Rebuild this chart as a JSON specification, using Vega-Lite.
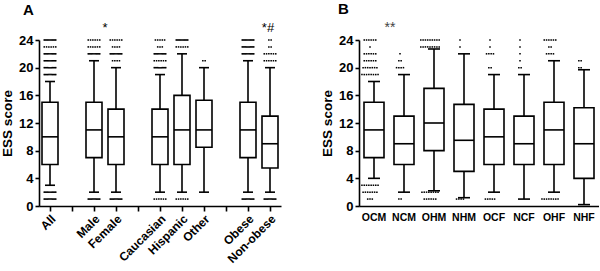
{
"$schema": "https://vega.github.io/schema/vega-lite/v6.json",
"background": "white",
"padding": {"left": 0, "top": 2, "right": 0, "bottom": 0},
"spacing": 39,
"config": {
 "view": {"stroke": null},
 "font": "Liberation Sans",
 "axis": {"domainColor": "black", "domainWidth": 1.6, "tickColor": "black", "tickWidth": 1.6, "labelColor": "black", "labelFont": "Liberation Sans", "labelFontWeight": "bold", "titleFont": "Liberation Sans", "titleFontWeight": "bold", "titleColor": "black", "grid": false, "labelOverlap": false},
 "axisY": {"values": [0,4,8,12,16,20,24], "labelOverlap": false, "tickSize": 4, "labelFontSize": 13, "labelPadding": 2, "titleFontSize": 13.5, "titlePadding": 4},
 "title": {"font": "Liberation Sans", "fontWeight": "bold", "fontSize": 15, "color": "black", "anchor": "start", "frame": "group", "offset": 0}
},
"datasets": {
 "boxA": [
  {"g":"All","lo":3,"q1":6,"med":10,"q3":15,"hi":18},
  {"g":"Male","lo":2,"q1":7,"med":11,"q3":15,"hi":21},
  {"g":"Female","lo":2,"q1":6,"med":10,"q3":14,"hi":20},
  {"g":"Caucasian","lo":2,"q1":6,"med":10,"q3":14,"hi":19},
  {"g":"Hispanic","lo":2,"q1":6,"med":11,"q3":16,"hi":22},
  {"g":"Other","lo":2,"q1":8.5,"med":11,"q3":15.3,"hi":20},
  {"g":"Obese","lo":2,"q1":7,"med":11,"q3":15,"hi":21},
  {"g":"Non-obese","lo":2,"q1":5.5,"med":9,"q3":13,"hi":20}
 ],
 "boxB": [
  {"g":"OCM","lo":4,"q1":7,"med":11,"q3":15,"hi":18},
  {"g":"NCM","lo":2,"q1":6,"med":9,"q3":13,"hi":19},
  {"g":"OHM","lo":2.2,"q1":8,"med":12,"q3":17,"hi":22.7},
  {"g":"NHM","lo":1.2,"q1":5,"med":9.5,"q3":14.7,"hi":22},
  {"g":"OCF","lo":2,"q1":6,"med":10,"q3":14,"hi":19},
  {"g":"NCF","lo":1,"q1":6,"med":9,"q3":13,"hi":19},
  {"g":"OHF","lo":2,"q1":6,"med":11,"q3":15,"hi":21},
  {"g":"NHF","lo":0.2,"q1":4,"med":9,"q3":14.2,"hi":19.7}
 ],
 "dotA": [
  {"g":"All","v":24,"k":-2.5},{"g":"All","v":24,"k":-2},{"g":"All","v":24,"k":-1.5},{"g":"All","v":24,"k":-1},{"g":"All","v":24,"k":-0.5},{"g":"All","v":24,"k":0},{"g":"All","v":24,"k":0.5},{"g":"All","v":24,"k":1},{"g":"All","v":24,"k":1.5},{"g":"All","v":24,"k":2},{"g":"All","v":24,"k":2.5},
  {"g":"All","v":23,"k":-2.5},{"g":"All","v":23,"k":-1.5},{"g":"All","v":23,"k":-0.5},{"g":"All","v":23,"k":0.5},{"g":"All","v":23,"k":1.5},{"g":"All","v":23,"k":2.5},
  {"g":"All","v":22,"k":-2.5},{"g":"All","v":22,"k":-2},{"g":"All","v":22,"k":-1.5},{"g":"All","v":22,"k":-1},{"g":"All","v":22,"k":-0.5},{"g":"All","v":22,"k":0},{"g":"All","v":22,"k":0.5},{"g":"All","v":22,"k":1},{"g":"All","v":22,"k":1.5},{"g":"All","v":22,"k":2},{"g":"All","v":22,"k":2.5},
  {"g":"All","v":21,"k":-2.5},{"g":"All","v":21,"k":-2},{"g":"All","v":21,"k":-1.5},{"g":"All","v":21,"k":-1},{"g":"All","v":21,"k":-0.5},{"g":"All","v":21,"k":0},{"g":"All","v":21,"k":0.5},{"g":"All","v":21,"k":1},{"g":"All","v":21,"k":1.5},{"g":"All","v":21,"k":2},{"g":"All","v":21,"k":2.5},
  {"g":"All","v":20,"k":-2.5},{"g":"All","v":20,"k":-2},{"g":"All","v":20,"k":-1.5},{"g":"All","v":20,"k":-1},{"g":"All","v":20,"k":-0.5},{"g":"All","v":20,"k":0},{"g":"All","v":20,"k":0.5},{"g":"All","v":20,"k":1},{"g":"All","v":20,"k":1.5},{"g":"All","v":20,"k":2},{"g":"All","v":20,"k":2.5},
  {"g":"All","v":19,"k":-2.5},{"g":"All","v":19,"k":-2},{"g":"All","v":19,"k":-1.5},{"g":"All","v":19,"k":-1},{"g":"All","v":19,"k":-0.5},{"g":"All","v":19,"k":0},{"g":"All","v":19,"k":0.5},{"g":"All","v":19,"k":1},{"g":"All","v":19,"k":1.5},{"g":"All","v":19,"k":2},{"g":"All","v":19,"k":2.5},
  {"g":"All","v":2,"k":-2.5},{"g":"All","v":2,"k":-2},{"g":"All","v":2,"k":-1.5},{"g":"All","v":2,"k":-1},{"g":"All","v":2,"k":-0.5},{"g":"All","v":2,"k":0},{"g":"All","v":2,"k":0.5},{"g":"All","v":2,"k":1},{"g":"All","v":2,"k":1.5},{"g":"All","v":2,"k":2},{"g":"All","v":2,"k":2.5},
  {"g":"All","v":1,"k":-2.5},{"g":"All","v":1,"k":-2},{"g":"All","v":1,"k":-1.5},{"g":"All","v":1,"k":-1},{"g":"All","v":1,"k":-0.5},{"g":"All","v":1,"k":0},{"g":"All","v":1,"k":0.5},{"g":"All","v":1,"k":1},{"g":"All","v":1,"k":1.5},{"g":"All","v":1,"k":2},{"g":"All","v":1,"k":2.5},
  {"g":"Male","v":24,"k":-2.5},{"g":"Male","v":24,"k":-1.5},{"g":"Male","v":24,"k":-0.5},{"g":"Male","v":24,"k":0.5},{"g":"Male","v":24,"k":1.5},{"g":"Male","v":24,"k":2.5},
  {"g":"Male","v":23,"k":-2.5},{"g":"Male","v":23,"k":-1.5},{"g":"Male","v":23,"k":-0.5},{"g":"Male","v":23,"k":0.5},{"g":"Male","v":23,"k":1.5},{"g":"Male","v":23,"k":2.5},
  {"g":"Male","v":22,"k":-2.5},{"g":"Male","v":22,"k":-2},{"g":"Male","v":22,"k":-1.5},{"g":"Male","v":22,"k":-1},{"g":"Male","v":22,"k":-0.5},{"g":"Male","v":22,"k":0},{"g":"Male","v":22,"k":0.5},{"g":"Male","v":22,"k":1},{"g":"Male","v":22,"k":1.5},{"g":"Male","v":22,"k":2},{"g":"Male","v":22,"k":2.5},
  {"g":"Male","v":1,"k":-2.5},{"g":"Male","v":1,"k":-2},{"g":"Male","v":1,"k":-1.5},{"g":"Male","v":1,"k":-1},{"g":"Male","v":1,"k":-0.5},{"g":"Male","v":1,"k":0},{"g":"Male","v":1,"k":0.5},{"g":"Male","v":1,"k":1},{"g":"Male","v":1,"k":1.5},{"g":"Male","v":1,"k":2},{"g":"Male","v":1,"k":2.5},
  {"g":"Female","v":24,"k":-2.5},{"g":"Female","v":24,"k":-1.5},{"g":"Female","v":24,"k":-0.5},{"g":"Female","v":24,"k":0.5},{"g":"Female","v":24,"k":1.5},{"g":"Female","v":24,"k":2.5},
  {"g":"Female","v":23,"k":-1.5},{"g":"Female","v":23,"k":-0.5},{"g":"Female","v":23,"k":0.5},{"g":"Female","v":23,"k":1.5},
  {"g":"Female","v":22,"k":-2.5},{"g":"Female","v":22,"k":-2},{"g":"Female","v":22,"k":-1.5},{"g":"Female","v":22,"k":-1},{"g":"Female","v":22,"k":-0.5},{"g":"Female","v":22,"k":0},{"g":"Female","v":22,"k":0.5},{"g":"Female","v":22,"k":1},{"g":"Female","v":22,"k":1.5},{"g":"Female","v":22,"k":2},{"g":"Female","v":22,"k":2.5},
  {"g":"Female","v":21,"k":-1.5},{"g":"Female","v":21,"k":-0.5},{"g":"Female","v":21,"k":0.5},{"g":"Female","v":21,"k":1.5},
  {"g":"Female","v":1,"k":-2.5},{"g":"Female","v":1,"k":-2},{"g":"Female","v":1,"k":-1.5},{"g":"Female","v":1,"k":-1},{"g":"Female","v":1,"k":-0.5},{"g":"Female","v":1,"k":0},{"g":"Female","v":1,"k":0.5},{"g":"Female","v":1,"k":1},{"g":"Female","v":1,"k":1.5},{"g":"Female","v":1,"k":2},{"g":"Female","v":1,"k":2.5},
  {"g":"Caucasian","v":24,"k":-2},{"g":"Caucasian","v":24,"k":-1},{"g":"Caucasian","v":24,"k":0},{"g":"Caucasian","v":24,"k":1},{"g":"Caucasian","v":24,"k":2},
  {"g":"Caucasian","v":23,"k":-1},{"g":"Caucasian","v":23,"k":0},{"g":"Caucasian","v":23,"k":1},
  {"g":"Caucasian","v":22,"k":-2.5},{"g":"Caucasian","v":22,"k":-2},{"g":"Caucasian","v":22,"k":-1.5},{"g":"Caucasian","v":22,"k":-1},{"g":"Caucasian","v":22,"k":-0.5},{"g":"Caucasian","v":22,"k":0},{"g":"Caucasian","v":22,"k":0.5},{"g":"Caucasian","v":22,"k":1},{"g":"Caucasian","v":22,"k":1.5},{"g":"Caucasian","v":22,"k":2},{"g":"Caucasian","v":22,"k":2.5},
  {"g":"Caucasian","v":21,"k":-2.5},{"g":"Caucasian","v":21,"k":-1.5},{"g":"Caucasian","v":21,"k":-0.5},{"g":"Caucasian","v":21,"k":0.5},{"g":"Caucasian","v":21,"k":1.5},{"g":"Caucasian","v":21,"k":2.5},
  {"g":"Caucasian","v":20,"k":-2.5},{"g":"Caucasian","v":20,"k":-2},{"g":"Caucasian","v":20,"k":-1.5},{"g":"Caucasian","v":20,"k":-1},{"g":"Caucasian","v":20,"k":-0.5},{"g":"Caucasian","v":20,"k":0},{"g":"Caucasian","v":20,"k":0.5},{"g":"Caucasian","v":20,"k":1},{"g":"Caucasian","v":20,"k":1.5},{"g":"Caucasian","v":20,"k":2},{"g":"Caucasian","v":20,"k":2.5},
  {"g":"Caucasian","v":1,"k":-2.5},{"g":"Caucasian","v":1,"k":-1.5},{"g":"Caucasian","v":1,"k":-0.5},{"g":"Caucasian","v":1,"k":0.5},{"g":"Caucasian","v":1,"k":1.5},{"g":"Caucasian","v":1,"k":2.5},
  {"g":"Hispanic","v":24,"k":-2.5},{"g":"Hispanic","v":24,"k":-2},{"g":"Hispanic","v":24,"k":-1.5},{"g":"Hispanic","v":24,"k":-1},{"g":"Hispanic","v":24,"k":-0.5},{"g":"Hispanic","v":24,"k":0},{"g":"Hispanic","v":24,"k":0.5},{"g":"Hispanic","v":24,"k":1},{"g":"Hispanic","v":24,"k":1.5},{"g":"Hispanic","v":24,"k":2},{"g":"Hispanic","v":24,"k":2.5},
  {"g":"Hispanic","v":23,"k":-2.5},{"g":"Hispanic","v":23,"k":-1.5},{"g":"Hispanic","v":23,"k":-0.5},{"g":"Hispanic","v":23,"k":0.5},{"g":"Hispanic","v":23,"k":1.5},{"g":"Hispanic","v":23,"k":2.5},
  {"g":"Hispanic","v":1,"k":-2.5},{"g":"Hispanic","v":1,"k":-1.5},{"g":"Hispanic","v":1,"k":-0.5},{"g":"Hispanic","v":1,"k":0.5},{"g":"Hispanic","v":1,"k":1.5},{"g":"Hispanic","v":1,"k":2.5},
  {"g":"Other","v":21,"k":-0.5},{"g":"Other","v":21,"k":0.5},
  {"g":"Obese","v":24,"k":-2.5},{"g":"Obese","v":24,"k":-2},{"g":"Obese","v":24,"k":-1.5},{"g":"Obese","v":24,"k":-1},{"g":"Obese","v":24,"k":-0.5},{"g":"Obese","v":24,"k":0},{"g":"Obese","v":24,"k":0.5},{"g":"Obese","v":24,"k":1},{"g":"Obese","v":24,"k":1.5},{"g":"Obese","v":24,"k":2},{"g":"Obese","v":24,"k":2.5},
  {"g":"Obese","v":23,"k":-2.5},{"g":"Obese","v":23,"k":-2},{"g":"Obese","v":23,"k":-1.5},{"g":"Obese","v":23,"k":-1},{"g":"Obese","v":23,"k":-0.5},{"g":"Obese","v":23,"k":0},{"g":"Obese","v":23,"k":0.5},{"g":"Obese","v":23,"k":1},{"g":"Obese","v":23,"k":1.5},{"g":"Obese","v":23,"k":2},{"g":"Obese","v":23,"k":2.5},
  {"g":"Obese","v":22,"k":-2.5},{"g":"Obese","v":22,"k":-2},{"g":"Obese","v":22,"k":-1.5},{"g":"Obese","v":22,"k":-1},{"g":"Obese","v":22,"k":-0.5},{"g":"Obese","v":22,"k":0},{"g":"Obese","v":22,"k":0.5},{"g":"Obese","v":22,"k":1},{"g":"Obese","v":22,"k":1.5},{"g":"Obese","v":22,"k":2},{"g":"Obese","v":22,"k":2.5},
  {"g":"Obese","v":1,"k":-2.5},{"g":"Obese","v":1,"k":-2},{"g":"Obese","v":1,"k":-1.5},{"g":"Obese","v":1,"k":-1},{"g":"Obese","v":1,"k":-0.5},{"g":"Obese","v":1,"k":0},{"g":"Obese","v":1,"k":0.5},{"g":"Obese","v":1,"k":1},{"g":"Obese","v":1,"k":1.5},{"g":"Obese","v":1,"k":2},{"g":"Obese","v":1,"k":2.5},
  {"g":"Non-obese","v":24,"k":-0.5},{"g":"Non-obese","v":24,"k":0.5},
  {"g":"Non-obese","v":23,"k":-0.5},{"g":"Non-obese","v":23,"k":0.5},
  {"g":"Non-obese","v":22,"k":-2.5},{"g":"Non-obese","v":22,"k":-1.5},{"g":"Non-obese","v":22,"k":-0.5},{"g":"Non-obese","v":22,"k":0.5},{"g":"Non-obese","v":22,"k":1.5},{"g":"Non-obese","v":22,"k":2.5},
  {"g":"Non-obese","v":21,"k":-2.5},{"g":"Non-obese","v":21,"k":-1.5},{"g":"Non-obese","v":21,"k":-0.5},{"g":"Non-obese","v":21,"k":0.5},{"g":"Non-obese","v":21,"k":1.5},{"g":"Non-obese","v":21,"k":2.5},
  {"g":"Non-obese","v":1,"k":-2.5},{"g":"Non-obese","v":1,"k":-2},{"g":"Non-obese","v":1,"k":-1.5},{"g":"Non-obese","v":1,"k":-1},{"g":"Non-obese","v":1,"k":-0.5},{"g":"Non-obese","v":1,"k":0},{"g":"Non-obese","v":1,"k":0.5},{"g":"Non-obese","v":1,"k":1},{"g":"Non-obese","v":1,"k":1.5},{"g":"Non-obese","v":1,"k":2},{"g":"Non-obese","v":1,"k":2.5}
 ],
 "dotB": [
  {"g":"OCM","v":24,"k":-2.5},{"g":"OCM","v":24,"k":-1.5},{"g":"OCM","v":24,"k":-0.5},{"g":"OCM","v":24,"k":0.5},{"g":"OCM","v":24,"k":1.5},{"g":"OCM","v":24,"k":2.5},
  {"g":"OCM","v":23,"k":0},
  {"g":"OCM","v":22,"k":-2.5},{"g":"OCM","v":22,"k":-1.5},{"g":"OCM","v":22,"k":-0.5},{"g":"OCM","v":22,"k":0.5},{"g":"OCM","v":22,"k":1.5},{"g":"OCM","v":22,"k":2.5},
  {"g":"OCM","v":21,"k":-2.5},{"g":"OCM","v":21,"k":-1.5},{"g":"OCM","v":21,"k":-0.5},{"g":"OCM","v":21,"k":0.5},{"g":"OCM","v":21,"k":1.5},{"g":"OCM","v":21,"k":2.5},
  {"g":"OCM","v":20,"k":-3},{"g":"OCM","v":20,"k":-2},{"g":"OCM","v":20,"k":-1},{"g":"OCM","v":20,"k":0},{"g":"OCM","v":20,"k":1},{"g":"OCM","v":20,"k":2},{"g":"OCM","v":20,"k":3},
  {"g":"OCM","v":19,"k":-3.5},{"g":"OCM","v":19,"k":-2.5},{"g":"OCM","v":19,"k":-1.5},{"g":"OCM","v":19,"k":-0.5},{"g":"OCM","v":19,"k":0.5},{"g":"OCM","v":19,"k":1.5},{"g":"OCM","v":19,"k":2.5},{"g":"OCM","v":19,"k":3.5},
  {"g":"OCM","v":3,"k":-3.5},{"g":"OCM","v":3,"k":-2.5},{"g":"OCM","v":3,"k":-1.5},{"g":"OCM","v":3,"k":-0.5},{"g":"OCM","v":3,"k":0.5},{"g":"OCM","v":3,"k":1.5},{"g":"OCM","v":3,"k":2.5},{"g":"OCM","v":3,"k":3.5},
  {"g":"OCM","v":2,"k":-3},{"g":"OCM","v":2,"k":-2},{"g":"OCM","v":2,"k":-1},{"g":"OCM","v":2,"k":0},{"g":"OCM","v":2,"k":1},{"g":"OCM","v":2,"k":2},{"g":"OCM","v":2,"k":3},
  {"g":"OCM","v":1,"k":-1},{"g":"OCM","v":1,"k":0},{"g":"OCM","v":1,"k":1},
  {"g":"NCM","v":22,"k":0},
  {"g":"NCM","v":21,"k":-0.5},{"g":"NCM","v":21,"k":0.5},
  {"g":"NCM","v":20,"k":-1.5},{"g":"NCM","v":20,"k":-0.5},{"g":"NCM","v":20,"k":0.5},{"g":"NCM","v":20,"k":1.5},
  {"g":"NCM","v":1,"k":-0.5},{"g":"NCM","v":1,"k":0.5},
  {"g":"OHM","v":24,"k":-4},{"g":"OHM","v":24,"k":-3},{"g":"OHM","v":24,"k":-2},{"g":"OHM","v":24,"k":-1},{"g":"OHM","v":24,"k":0},{"g":"OHM","v":24,"k":1},{"g":"OHM","v":24,"k":2},{"g":"OHM","v":24,"k":3},{"g":"OHM","v":24,"k":4},
  {"g":"OHM","v":23,"k":-4},{"g":"OHM","v":23,"k":-3},{"g":"OHM","v":23,"k":-2},{"g":"OHM","v":23,"k":-1},{"g":"OHM","v":23,"k":0},{"g":"OHM","v":23,"k":1},{"g":"OHM","v":23,"k":2},{"g":"OHM","v":23,"k":3},{"g":"OHM","v":23,"k":4},
  {"g":"OHM","v":2,"k":-3.5},{"g":"OHM","v":2,"k":-2.5},{"g":"OHM","v":2,"k":-1.5},{"g":"OHM","v":2,"k":-0.5},{"g":"OHM","v":2,"k":0.5},{"g":"OHM","v":2,"k":1.5},{"g":"OHM","v":2,"k":2.5},{"g":"OHM","v":2,"k":3.5},
  {"g":"OHM","v":1,"k":-2.5},{"g":"OHM","v":1,"k":-1.5},{"g":"OHM","v":1,"k":-0.5},{"g":"OHM","v":1,"k":0.5},{"g":"OHM","v":1,"k":1.5},{"g":"OHM","v":1,"k":2.5},
  {"g":"NHM","v":24,"k":0},
  {"g":"NHM","v":23,"k":0},
  {"g":"NHM","v":1,"k":-1.5},{"g":"NHM","v":1,"k":-0.5},{"g":"NHM","v":1,"k":0.5},{"g":"NHM","v":1,"k":1.5},
  {"g":"OCF","v":24,"k":0},
  {"g":"OCF","v":23,"k":0},
  {"g":"OCF","v":22,"k":-1.5},{"g":"OCF","v":22,"k":-0.5},{"g":"OCF","v":22,"k":0.5},{"g":"OCF","v":22,"k":1.5},
  {"g":"OCF","v":20,"k":-0.5},{"g":"OCF","v":20,"k":0.5},
  {"g":"OCF","v":1,"k":-2},{"g":"OCF","v":1,"k":-1},{"g":"OCF","v":1,"k":0},{"g":"OCF","v":1,"k":1},{"g":"OCF","v":1,"k":2},
  {"g":"NCF","v":24,"k":0},
  {"g":"NCF","v":23,"k":0},
  {"g":"NCF","v":22,"k":0},
  {"g":"NCF","v":21,"k":0},
  {"g":"NCF","v":20,"k":-0.5},{"g":"NCF","v":20,"k":0.5},
  {"g":"OHF","v":24,"k":-2.5},{"g":"OHF","v":24,"k":-1.5},{"g":"OHF","v":24,"k":-0.5},{"g":"OHF","v":24,"k":0.5},{"g":"OHF","v":24,"k":1.5},{"g":"OHF","v":24,"k":2.5},
  {"g":"OHF","v":23,"k":-0.5},{"g":"OHF","v":23,"k":0.5},
  {"g":"OHF","v":22,"k":-1.5},{"g":"OHF","v":22,"k":-0.5},{"g":"OHF","v":22,"k":0.5},{"g":"OHF","v":22,"k":1.5},
  {"g":"OHF","v":1,"k":-3.5},{"g":"OHF","v":1,"k":-2.5},{"g":"OHF","v":1,"k":-1.5},{"g":"OHF","v":1,"k":-0.5},{"g":"OHF","v":1,"k":0.5},{"g":"OHF","v":1,"k":1.5},{"g":"OHF","v":1,"k":2.5},{"g":"OHF","v":1,"k":3.5},
  {"g":"NHF","v":21,"k":-0.5},{"g":"NHF","v":21,"k":0.5},
  {"g":"NHF","v":20,"k":-0.5},{"g":"NHF","v":20,"k":0.5}
 ]
},
"hconcat": [
 {
  "width": 242, "height": 166,
  "title": {"text": "A", "dx": -16},
  "encoding": {
   "x": {"field": "g", "type": "nominal",
    "scale": {"type": "band", "domain": ["All","gap1","Male","Female","gap2","Caucasian","Hispanic","Other","gap3","Obese","Non-obese"], "paddingInner": 0, "paddingOuter": 0},
    "axis": {"title": null, "labelAngle": -45, "labelExpr": "indexof(datum.value, 'gap') == 0 ? '' : datum.value", "tickSize": 5, "labelFontSize": 12, "labelPadding": 2}}
  },
  "layer": [
   {"data": {"name": "boxA"}, "mark": {"type": "rule", "color": "black", "strokeWidth": 1.6},
    "encoding": {"y": {"field": "lo", "type": "quantitative", "scale": {"domain": [0, 24], "nice": false}, "axis": {"title": "ESS score", "values": [0,4,8,12,16,20,24]}}, "y2": {"field": "q1"}}},
   {"data": {"name": "boxA"}, "mark": {"type": "rule", "color": "black", "strokeWidth": 1.6},
    "encoding": {"y": {"field": "q3", "type": "quantitative", "axis": {"title": "ESS score", "values": [0,4,8,12,16,20,24]}}, "y2": {"field": "hi"}}},
   {"data": {"name": "boxA"}, "mark": {"type": "bar", "size": 16, "fill": "white", "stroke": "black", "strokeWidth": 1.6},
    "encoding": {"y": {"field": "q1", "type": "quantitative", "axis": {"title": "ESS score", "values": [0,4,8,12,16,20,24]}}, "y2": {"field": "q3"}}},
   {"data": {"name": "boxA"}, "mark": {"type": "tick", "size": 16, "thickness": 1.6, "color": "black", "opacity": 1},
    "encoding": {"y": {"field": "med", "type": "quantitative", "axis": {"title": "ESS score", "values": [0,4,8,12,16,20,24]}}}},
   {"data": {"name": "boxA"}, "mark": {"type": "tick", "size": 10, "thickness": 1.6, "color": "black", "opacity": 1},
    "encoding": {"y": {"field": "lo", "type": "quantitative", "axis": {"title": "ESS score", "values": [0,4,8,12,16,20,24]}}}},
   {"data": {"name": "boxA"}, "mark": {"type": "tick", "size": 10, "thickness": 1.6, "color": "black", "opacity": 1},
    "encoding": {"y": {"field": "hi", "type": "quantitative", "axis": {"title": "ESS score", "values": [0,4,8,12,16,20,24]}}}},
   {"data": {"name": "dotA"}, "mark": {"type": "point", "shape": "square", "size": 2.4, "filled": true, "color": "black", "opacity": 1, "strokeWidth": 0},
    "encoding": {"y": {"field": "v", "type": "quantitative", "axis": {"title": "ESS score", "values": [0,4,8,12,16,20,24]}}, "xOffset": {"field": "k", "type": "quantitative", "scale": {"domain": [-5, 5], "range": [-0.5, 22.5], "nice": false, "zero": false}}}},
   {"data": {"values": [{"g": "Male", "v": 25.1, "t": "*"}]}, "mark": {"type": "text", "fontSize": 13, "color": "black", "dx": 11, "baseline": "alphabetic"},
    "encoding": {"y": {"field": "v", "type": "quantitative", "axis": {"title": "ESS score", "values": [0,4,8,12,16,20,24]}}, "text": {"field": "t"}}},
   {"data": {"values": [{"g": "Non-obese", "v": 25.2, "t": "*#"}]}, "mark": {"type": "text", "fontSize": 13, "color": "black", "dx": -2, "baseline": "alphabetic"},
    "encoding": {"y": {"field": "v", "type": "quantitative", "axis": {"title": "ESS score", "values": [0,4,8,12,16,20,24]}}, "text": {"field": "t"}}}
  ]
 },
 {
  "width": 240, "height": 166,
  "title": {"text": "B", "dx": -21},
  "encoding": {
   "x": {"field": "g", "type": "nominal",
    "scale": {"type": "band", "domain": ["OCM","NCM","OHM","NHM","OCF","NCF","OHF","NHF"], "paddingInner": 0, "paddingOuter": 0},
    "axis": {"title": null, "labelAngle": 0, "ticks": false, "labelFontSize": 10.5, "labelPadding": 6}}
  },
  "layer": [
   {"data": {"name": "boxB"}, "mark": {"type": "rule", "color": "black", "strokeWidth": 1.6},
    "encoding": {"y": {"field": "lo", "type": "quantitative", "scale": {"domain": [0, 24], "nice": false}, "axis": {"title": "ESS score", "values": [0,4,8,12,16,20,24]}}, "y2": {"field": "q1"}}},
   {"data": {"name": "boxB"}, "mark": {"type": "rule", "color": "black", "strokeWidth": 1.6},
    "encoding": {"y": {"field": "q3", "type": "quantitative", "axis": {"title": "ESS score", "values": [0,4,8,12,16,20,24]}}, "y2": {"field": "hi"}}},
   {"data": {"name": "boxB"}, "mark": {"type": "bar", "size": 20, "fill": "white", "stroke": "black", "strokeWidth": 1.6},
    "encoding": {"y": {"field": "q1", "type": "quantitative", "axis": {"title": "ESS score", "values": [0,4,8,12,16,20,24]}}, "y2": {"field": "q3"}}},
   {"data": {"name": "boxB"}, "mark": {"type": "tick", "size": 20, "thickness": 1.6, "color": "black", "opacity": 1},
    "encoding": {"y": {"field": "med", "type": "quantitative", "axis": {"title": "ESS score", "values": [0,4,8,12,16,20,24]}}}},
   {"data": {"name": "boxB"}, "mark": {"type": "tick", "size": 12, "thickness": 1.6, "color": "black", "opacity": 1},
    "encoding": {"y": {"field": "lo", "type": "quantitative", "axis": {"title": "ESS score", "values": [0,4,8,12,16,20,24]}}}},
   {"data": {"name": "boxB"}, "mark": {"type": "tick", "size": 12, "thickness": 1.6, "color": "black", "opacity": 1},
    "encoding": {"y": {"field": "hi", "type": "quantitative", "axis": {"title": "ESS score", "values": [0,4,8,12,16,20,24]}}}},
   {"data": {"name": "dotB"}, "mark": {"type": "point", "shape": "square", "size": 2.4, "filled": true, "color": "black", "opacity": 1, "strokeWidth": 0},
    "encoding": {"y": {"field": "v", "type": "quantitative", "axis": {"title": "ESS score", "values": [0,4,8,12,16,20,24]}}, "xOffset": {"field": "k", "type": "quantitative", "scale": {"domain": [-5, 5], "range": [2.5, 27.5], "nice": false, "zero": false}}}},
   {"data": {"values": [{"g": "OCM", "v": 25.1, "t": "**"}]}, "mark": {"type": "text", "fontSize": 14, "color": "#444444", "dx": 16, "baseline": "alphabetic"},
    "encoding": {"y": {"field": "v", "type": "quantitative", "axis": {"title": "ESS score", "values": [0,4,8,12,16,20,24]}}, "text": {"field": "t"}}}
  ]
 }
]
}
